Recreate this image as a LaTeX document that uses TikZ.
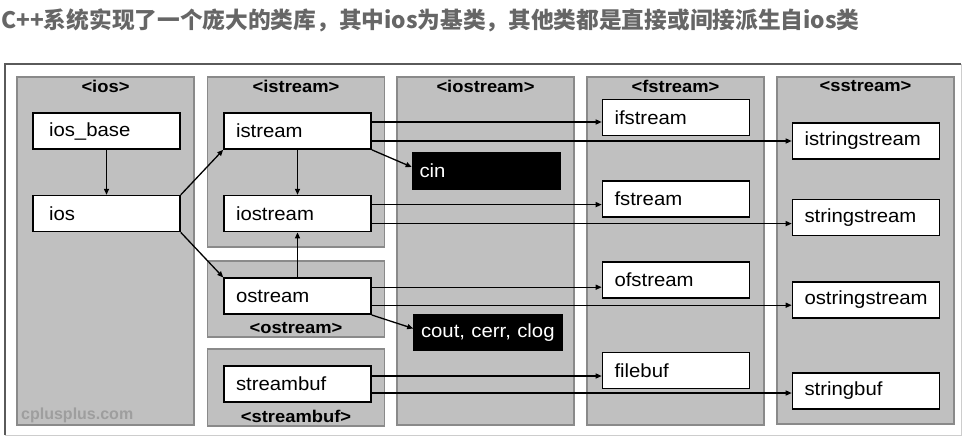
\documentclass[tikz,border=0pt]{standalone}
\usepackage{fontspec}
\setmainfont{Liberation Sans}
\newfontfamily\boxfont{Liberation Sans}[FakeStretch=1.07]
\newfontfamily\headfont{Liberation Sans}[FakeStretch=1.08]
\newfontfamily\cjkfont{Noto Sans CJK SC}
\usepackage{xcolor}
\definecolor{PanelGray}{RGB}{192,192,192}
\definecolor{PanelEdge}{RGB}{138,138,138}
\definecolor{TitleGray}{RGB}{102,102,102}
\definecolor{FrameDark}{RGB}{90,90,90}
\definecolor{FrameLight}{RGB}{205,205,205}
\usetikzlibrary{positioning,arrows.meta}

\begin{document}
\begin{tikzpicture}[x=1pt, y=-1pt,
    pn/.style={rectangle, draw=PanelEdge, fill=PanelGray, line width=1.8pt,
              minimum width=177pt, inner sep=0pt},
    pt/.style={inner sep=0pt, font=\headfont\bfseries\fontsize{17}{19}\selectfont},
    cl/.style={rectangle, draw=black, fill=white, line width=1.6pt,
              minimum height=36pt, text width=123pt, inner xsep=12pt, align=left,
              font=\boxfont\fontsize{19}{21}\selectfont},
    obj/.style={cl, fill=black, text=white, text width=134pt, inner xsep=7pt},
    a/.style={-{Triangle[length=6pt, width=5pt]}, line width=1.3pt}
]
    \useasboundingbox (0,0) rectangle (964,437);
    \node[anchor=west, inner sep=0pt, text=TitleGray,
          font=\cjkfont\bfseries\fontsize{22.7}{26}\selectfont] (title) at (1,20)
          {C++系统实现了一个庞大的类库，其中ios为基类，其他类都是直接或间接派生自ios类};

    % frame
    \draw[FrameLight, line width=1pt] (5,435) -- (961,435) -- (961,64);
    \draw[FrameDark, line width=1.2pt] (5,435) -- (5,64) -- (961,64);

    % header panels
    \node[pn, minimum height=348pt] (pios) at (105.5,251) {};
    \node[pn, minimum height=170pt] (pistream) at (296,162) {};
    \node[pn, minimum height=76pt] (postream) at (296,299) {};
    \node[pn, minimum height=77pt] (pstreambuf) at (296,387.5) {};
    \node[pn, minimum height=348pt] (piostream) at (485.5,251) {};
    \node[pn, minimum height=348pt] (pfstream) at (675.5,251) {};
    \node[pn, minimum height=347pt] (psstream) at (865.5,250.5) {};
    \node[pt, below=4pt of pios.north] (tios) {<ios>};
    \node[pt, below=4pt of pistream.north] (tistream) {<istream>};
    \node[pt, above=4pt of postream.south] (tostream) {<ostream>};
    \node[pt, above=4pt of pstreambuf.south] (tstreambuf) {<streambuf>};
    \node[pt, below=4pt of piostream.north] (tiostream) {<iostream>};
    \node[pt, below=4pt of pfstream.north] (tfstream) {<fstream>};
    \node[pt, below=4pt of psstream.north] (tsstream) {<sstream>};
    \node[anchor=west, inner sep=0pt, text=black!38,
          font=\fontsize{16}{18}\selectfont\bfseries] (wm) at (21,415) {cplusplus.com};

    % classes
    \node[cl, inner xsep=16pt, text width=115pt] (iosbase) at (106.5,131) {ios\_base};
    \node[cl, inner xsep=16pt, text width=115pt, below=45pt of iosbase] (ios) {ios};
    \node[cl] (istream) at (297.5,131) {istream};
    \node[cl, below=45pt of istream] (iostream) {iostream};
    \node[cl, below=45pt of iostream] (ostream) {ostream};
    \node[cl] (streambuf) at (297.5,384) {streambuf};
    \node[obj] (cin) at (486.5,171) {cin};
    \node[obj] (cout) at (488,332.5) {cout, cerr, clog};
    \node[cl] (ifstream) at (676,117.5) {ifstream};
    \node[cl] (fstream) at (676,199) {fstream};
    \node[cl] (ofstream) at (676,280) {ofstream};
    \node[cl] (filebuf) at (676,370.5) {filebuf};
    \node[cl] (istringstream) at (866,141) {istringstream};
    \node[cl] (stringstream) at (866,217.5) {stringstream};
    \node[cl] (ostringstream) at (866,300) {ostringstream};
    \node[cl] (stringbuf) at (866,391) {stringbuf};

    % inheritance
    \draw[a] (iosbase) -- (ios);
    \draw[a] (ios.north east) -- (istream.south west);
    \draw[a] (ios.south east) -- (ostream.north west);
    \draw[a] (istream) -- (iostream);
    \draw[a] (ostream) -- (iostream);
    \draw[a] ([yshift=9pt]istream.east) -- ([yshift=9pt]istream.east -| ifstream.west);
    \draw[a] ([yshift=-10pt]istream.east) -- ([yshift=-10pt]istream.east -| istringstream.west);
    \draw[a] (istream.south east) -- ([yshift=4pt]cin.west);
    \draw[a] ([yshift=9pt]iostream.east) -- ([yshift=9pt]iostream.east -| fstream.west);
    \draw[a] ([yshift=-10pt]iostream.east) -- ([yshift=-10pt]iostream.east -| stringstream.west);
    \draw[a] ([yshift=9pt]ostream.east) -- ([yshift=9pt]ostream.east -| ofstream.west);
    \draw[a] ([yshift=-9pt]ostream.east) -- ([yshift=-9pt]ostream.east -| ostringstream.west);
    \draw[a] (ostream.south east) -- ([yshift=4pt]cout.west);
    \draw[a] ([yshift=8pt]streambuf.east) -- ([yshift=8pt]streambuf.east -| filebuf.west);
    \draw[a] ([yshift=-9pt]streambuf.east) -- ([yshift=-9pt]streambuf.east -| stringbuf.west);
\end{tikzpicture}
\end{document}
